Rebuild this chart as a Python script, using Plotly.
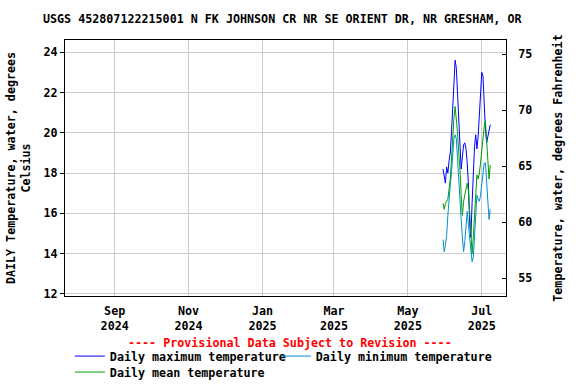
import pandas as pd
import plotly.graph_objects as go

start_date = "2025-05-30"
daily_max = [18.2, 17.8, 17.5, 18.3, 18.0, 18.6, 19.0, 20.0, 21.2, 22.3,
             23.6, 23.2, 22.0, 20.6, 19.8, 18.2, 18.8, 19.4, 19.5, 19.2,
             18.5, 17.4, 15.5, 14.8, 16.5, 18.0, 19.3, 19.9, 19.2, 19.8,
             20.7, 21.8, 23.0, 22.8, 21.4, 20.2, 19.5, 19.8, 20.2, 20.4]
daily_mean = [16.5, 16.2, 16.5, 16.6, 16.7, 17.2, 17.7, 18.7, 19.8, 20.7,
              21.3, 20.8, 20.0, 19.0, 18.2, 16.9, 15.9, 16.6, 16.9, 17.2,
              17.5, 17.1, 15.9, 14.8, 14.0, 14.8, 15.9, 17.4, 17.9, 17.7,
              18.0, 18.5, 19.2, 19.8, 20.3, 20.6, 19.7, 18.4, 17.7, 18.4]
daily_min = [14.7, 14.1, 14.4, 14.9, 15.9, 16.9, 17.4, 18.0, 18.7, 19.7,
             19.9, 19.7, 18.7, 17.5, 16.7, 15.7, 14.8, 14.1, 14.6, 15.4,
             16.1, 15.4, 14.8, 14.1, 13.6, 13.8, 14.8, 16.1, 16.9, 16.7,
             16.6, 16.9, 17.4, 18.0, 18.5, 18.5, 17.7, 16.7, 15.7, 16.2]
dates = pd.date_range(start_date, periods=len(daily_max), freq="D")

tick_dates = ["2024-09-01", "2024-11-01", "2025-01-01", "2025-03-01", "2025-05-01", "2025-07-01"]
tick_labels = ["Sep<br>2024", "Nov<br>2024", "Jan<br>2025", "Mar<br>2025", "May<br>2025", "Jul<br>2025"]
c_ticks = [12, 14, 16, 18, 20, 22, 24]
f_ticks = [55, 60, 65, 70, 75]

c_range = [11.9, 24.6]
f_range = [c * 9 / 5 + 32 for c in c_range]
daily_max_f = [c * 9 / 5 + 32 for c in daily_max]

FONT = "DejaVu Sans Mono"
fnt = dict(family=FONT, size=11.7, color="black", weight="bold")

fig = go.Figure()
fig.add_trace(go.Scatter(x=dates, y=daily_max, mode="lines", name="Daily maximum temperature",
                         line=dict(color="#0000ff", width=1), legend="legend"))
fig.add_trace(go.Scatter(x=dates, y=daily_min, mode="lines", name="Daily minimum temperature",
                         line=dict(color="#0090d0", width=1), legend="legend2"))
fig.add_trace(go.Scatter(x=dates, y=daily_mean, mode="lines", name="Daily mean temperature",
                         line=dict(color="#00a000", width=1), legend="legend3"))
# same maximum series in Fahrenheit, invisible, so the right axis is drawn
fig.add_trace(go.Scatter(x=dates, y=daily_max_f, mode="lines", yaxis="y2",
                         line=dict(color="rgba(0,0,0,0)", width=0), showlegend=False,
                         hoverinfo="skip"))

leg = dict(orientation="h", xanchor="left", yanchor="top", itemwidth=30,
           font=fnt, bgcolor="rgba(0,0,0,0)")

fig.update_layout(
    width=576, height=384,
    margin=dict(l=65, r=70, t=40, b=88, autoexpand=False),
    paper_bgcolor="white", plot_bgcolor="white",
    font=fnt,
    title=dict(text="USGS 452807122215001 N FK JOHNSON CR NR SE ORIENT DR, NR GRESHAM, OR",
               xref="container", x=0.49, xanchor="center", y=0.95, yanchor="middle",
               font=fnt),
    showlegend=True,
    legend=dict(leg, x=0.011, y=-0.178),
    legend2=dict(leg, x=0.478, y=-0.178),
    legend3=dict(leg, x=0.011, y=-0.2405),
    xaxis=dict(type="date", range=["2024-07-22", "2025-07-21"],
               tickvals=tick_dates, ticktext=tick_labels,
               showgrid=True, gridcolor="#cccccc", gridwidth=1,
               showline=True, linecolor="black", linewidth=1, mirror=True,
               ticks="", tickfont=fnt, zeroline=False, automargin=False,
               ticklabelstandoff=4),
    yaxis=dict(range=c_range, tickvals=c_ticks,
               showgrid=True, gridcolor="#cccccc", gridwidth=1,
               showline=True, linecolor="black", linewidth=1,
               ticks="outside", ticklen=4, tickcolor="black", tickfont=fnt,
               zeroline=False, automargin=False,
               title=dict(text="DAILY Temperature, water, degrees<br>Celsius",
                          font=fnt, standoff=10)),
    yaxis2=dict(range=f_range, tickvals=f_ticks, overlaying="y", side="right",
                showgrid=False, showline=True, linecolor="black", linewidth=1,
                ticks="inside", ticklen=4, tickcolor="black", tickfont=fnt,
                zeroline=False, automargin=False, ticklabelstandoff=9,
                title=dict(text="Temperature, water, degrees Fahrenheit", font=fnt, standoff=22)),
)

fig.add_annotation(text="---- Provisional Data Subject to Revision ----",
                   xref="paper", yref="paper", x=0.51, y=-0.184,
                   xanchor="center", yanchor="middle", showarrow=False,
                   font=dict(family=FONT, size=11.7, color="red", weight="bold"))

fig.write_html("out.html", config={"displayModeBar": False},
               post_script="document.body.style.margin='0';")
